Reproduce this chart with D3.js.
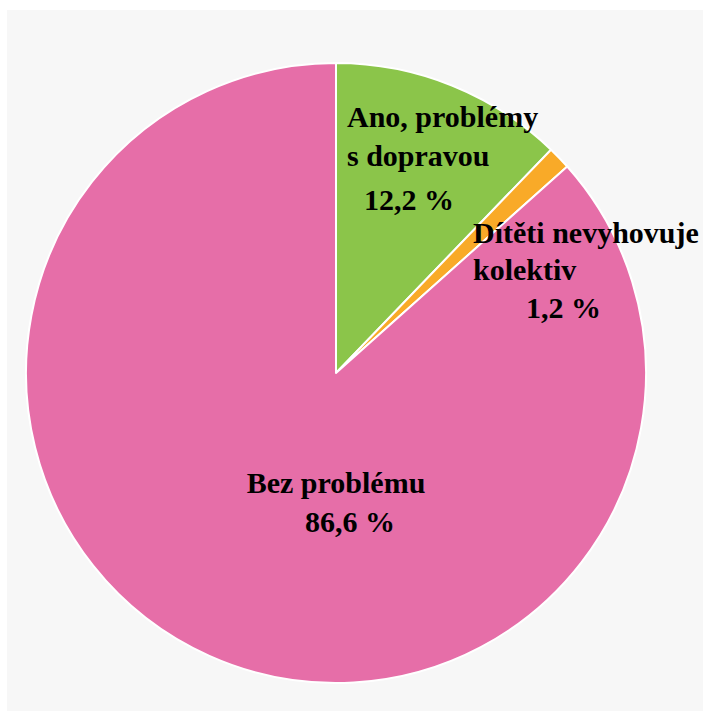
<!DOCTYPE html>
<html><head><meta charset="utf-8">
<script src="https://cdn.jsdelivr.net/npm/d3@7"></script>
<style>html,body{margin:0;padding:0;background:#fff;}svg{display:block;}
.lbl{font-family:"Liberation Serif","Times New Roman",Times,serif;font-weight:bold;font-size:30px;fill:#000;}</style>
</head><body>
<svg id="c" width="703" height="711"></svg>
<script>
const categories = ["Ano, problémy s dopravou", "Dítěti nevyhovuje kolektiv", "Bez problému"];
const values = [12.2, 1.2, 86.6];
const valueLabels = ["12,2 %", "1,2 %", "86,6 %"];
const labelLines = [["Ano, problémy", "s dopravou"], ["Dítěti nevyhovuje", "kolektiv"], ["Bez problému"]];
const colors = ["#8bc54a", "#f9aa28", "#e66ea8"];

const svg = d3.select("#c");
svg.append("rect").attr("x", 7).attr("y", 10).attr("width", 696).attr("height", 701).attr("fill", "#f7f7f7");

const cx = 336, cy = 373, r = 310;
const g = svg.append("g").attr("transform", `translate(${cx},${cy})`);
const pie = d3.pie().sort(null).value(d => d)(values);
const arc = d3.arc().innerRadius(0).outerRadius(r);
g.selectAll("path").data(pie).enter().append("path")
  .attr("d", arc).attr("fill", (d, i) => colors[i])
  .attr("stroke", "#fff").attr("stroke-width", 2).attr("stroke-linejoin", "round");

// label layout (offsets from pie center)
const layout = [
  {x: 11, y: -246, dy: 39, vx: 28, vy: -163, anchor: "start"},
  {x: 137, y: -130, dy: 37, vx: 190, vy: -55, anchor: "start"},
  {x: 0, y: 120, dy: 39, vx: 14, vy: 159, anchor: "middle"}
];
layout.forEach((L, i) => {
  const t = g.append("text").attr("class", "lbl").attr("text-anchor", L.anchor);
  labelLines[i].forEach((s, k) => t.append("tspan").attr("x", L.x).attr("y", L.y + k * L.dy).text(s));
  g.append("text").attr("class", "lbl").attr("text-anchor", i === 2 ? "middle" : "start")
    .attr("x", L.vx).attr("y", L.vy).text(valueLabels[i]);
});
</script>
</body></html>
